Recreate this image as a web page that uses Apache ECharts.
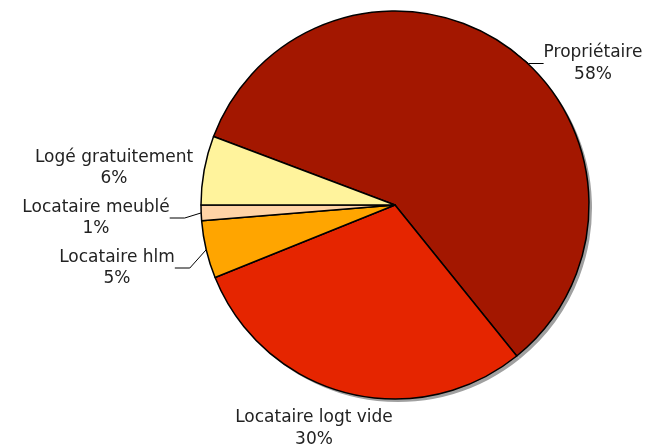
<!doctype html>
<html lang="fr">
<head>
  <meta charset="utf-8" />
  <title>Statut d'occupation</title>
  <script src="https://cdn.jsdelivr.net/npm/echarts@6/dist/echarts.min.js"></script>
  <style>
    html,body{margin:0;padding:0;background:#fff}
    #chart{width:646px;height:446px}
  </style>
</head>
<body>
  <div id="chart"></div>
  <script>
    // categories and shares (%), clockwise from the upper-left
    const categories = ['Propriétaire', 'Locataire logt vide', 'Locataire hlm', 'Locataire meublé', 'Logé gratuitement'];
    const shares = [58.45, 29.7, 4.8, 1.3, 5.75];
    const colors = ['#a31700', '#e52500', '#ffa500', '#ffd3a6', '#fff39c'];
    // where each label block is centred (layout only), and whether it has a leader line
    const labelPos = [[593, 63.5], [314, 428.5], [117, 268], [96, 218], [114, 168]];
    const hasLeader = [true, false, true, true, false];

    const chart = echarts.init(document.getElementById('chart'), null, { renderer: 'canvas' });

    const pieData = categories.map((name, i) => ({
      name, value: shares[i],
      itemStyle: { color: colors[i] },
      labelLine: { show: hasLeader[i] }
    }));
    const shadowData = categories.map((name, i) => ({ name, value: shares[i] }));

    const option = {
      animation: false,
      backgroundColor: '#fff',
      series: [
        {
          // flat grey drop shadow under the pie
          type: 'pie', silent: true, z: 1,
          center: [398, 208], radius: 194,
          startAngle: 159.3, clockwise: true,
          avoidLabelOverlap: false,
          label: { show: false }, labelLine: { show: false },
          itemStyle: { color: '#a0a0a0', borderWidth: 0 },
          data: shadowData
        },
        {
          type: 'pie', z: 2,
          center: [395, 205], radius: 194,
          startAngle: 159.3, clockwise: true,
          avoidLabelOverlap: false,
          minShowLabelAngle: 0,
          itemStyle: { borderColor: '#000', borderWidth: 1.5 },
          label: {
            show: true, position: 'outer', alignTo: 'none',
            formatter: p => `{n|${p.name}}\n{n|${Math.round(p.percent)}%}`,
            rich: { n: { align: 'center', fontFamily: 'DejaVu Sans', fontSize: 17, lineHeight: 21.5, color: '#222' } }
          },
          labelLine: { show: true, length: 4, length2: 15, lineStyle: { color: '#000', width: 1 } },
          labelLayout: p => ({
            x: labelPos[p.dataIndex][0],
            y: labelPos[p.dataIndex][1],
            align: 'center',
            verticalAlign: 'middle'
          }),
          data: pieData
        }
      ]
    };
    chart.setOption(option);
  </script>
</body>
</html>
